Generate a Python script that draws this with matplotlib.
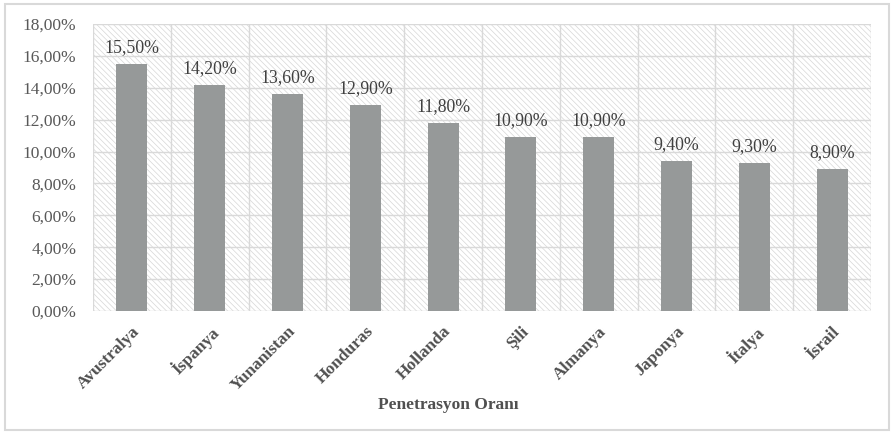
import matplotlib.pyplot as plt
import matplotlib.patches as mpatches
from matplotlib.ticker import FuncFormatter

# --- DATA ---
ULKELER = ["Avustralya", "İspanya", "Yunanistan", "Honduras", "Hollanda",
           "Şili", "Almanya", "Japonya", "İtalya", "İsrail"]
ORAN = [15.5, 14.2, 13.6, 12.9, 11.8, 10.9, 10.9, 9.4, 9.3, 8.9]
Y_TICKS = [0, 2, 4, 6, 8, 10, 12, 14, 16, 18]

plt.rcParams["font.family"] = ["Liberation Serif", "DejaVu Serif"]
plt.rcParams["hatch.linewidth"] = 0.5
plt.rcParams["hatch.color"] = "#d6d6d6"

BAR_C = "#969999"
GRID_C = "#d9d9d9"
TXT_C = "#505050"


def pct(v, _pos=None):
    return f"{v:.2f}".replace(".", ",") + "%"


fig = plt.figure(figsize=(8.94, 4.33), dpi=100)
ax = fig.add_axes([93 / 894, 1 - 311 / 433, (871 - 93) / 894, (311 - 24) / 433])

n = len(ULKELER)
ax.set_xlim(-0.5, n - 0.5)
ax.set_ylim(0, 18)

# hatched background
bg = mpatches.Rectangle((0, 0), 1, 1, transform=ax.transAxes, facecolor="white",
                        edgecolor="#d6d6d6", hatch="\\\\\\\\\\\\", linewidth=0, zorder=0)
ax.add_patch(bg)

# grid lines
for y in Y_TICKS:
    ax.axhline(y, color=GRID_C, lw=1.0, zorder=1)
for i in range(n + 1):
    ax.axvline(i - 0.5, color=GRID_C, lw=1.0, zorder=1)

ax.bar(range(n), ORAN, width=0.4, color=BAR_C, zorder=3)

for i, v in enumerate(ORAN):
    ax.text(i, v + 0.5, pct(v), ha="center", va="bottom", fontsize=12.8,
            color="#404040", zorder=4)

ax.set_yticks(Y_TICKS)
ax.yaxis.set_major_formatter(FuncFormatter(pct))
ax.tick_params(axis="y", length=0, labelsize=12.5, labelcolor="#595959", pad=12)
ax.set_xticks(range(n))
ax.set_xticklabels(ULKELER, rotation=45, ha="right", va="top", rotation_mode="anchor",
                   fontsize=12.5, fontweight="bold", color=TXT_C)
ax.tick_params(axis="x", length=0, pad=9)
for s in ax.spines.values():
    s.set_visible(False)

fig.text(448 / 894, 1 - 405 / 433, "Penetrasyon Oranı", ha="center", va="center",
         fontsize=12.5, fontweight="bold", color=TXT_C)

# outer frame
frame = mpatches.Rectangle((5 / 894, 3 / 433), 884 / 894, 426 / 433,
                           transform=fig.transFigure, fill=False,
                           edgecolor="#d9d9d9", lw=1.5)
fig.patches.append(frame)

fig.savefig("out.png", dpi=100)
